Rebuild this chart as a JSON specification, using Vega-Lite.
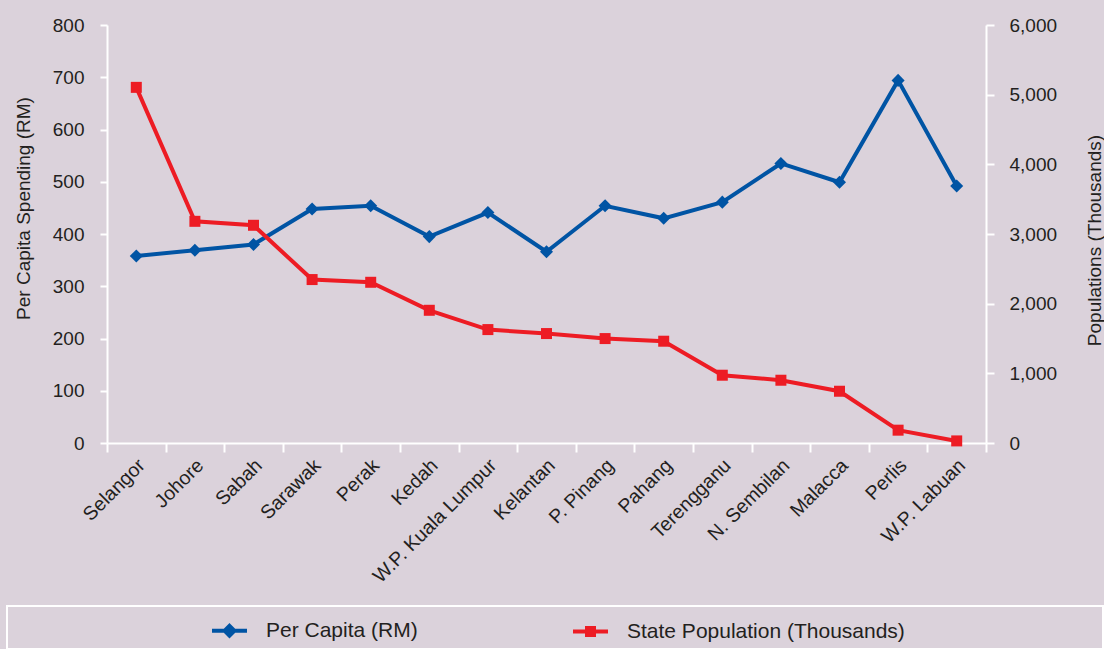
{
  "$schema": "https://vega.github.io/schema/vega-lite/v6.json",
  "width": 879,
  "height": 418,
  "autosize": "none",
  "padding": {"left": 107, "top": 25, "right": 118, "bottom": 206},
  "background": "#dbd2db",
  "config": {
    "view": {"stroke": null},
    "font": "Liberation Sans",
    "axis": {"labelFont": "Liberation Sans", "titleFont": "Liberation Sans", "labelColor": "#231f20", "titleColor": "#231f20", "titleFontWeight": "normal"},
    "legend": {"labelFont": "Liberation Sans", "titleFont": "Liberation Sans", "labelColor": "#231f20"}
  },
  "data": {
    "values": [
      {"state": "Selangor", "percap": 358, "pop": 5105},
      {"state": "Johore", "percap": 369, "pop": 3182},
      {"state": "Sabah", "percap": 380, "pop": 3125},
      {"state": "Sarawak", "percap": 448, "pop": 2346},
      {"state": "Perak", "percap": 454, "pop": 2307},
      {"state": "Kedah", "percap": 395, "pop": 1905},
      {"state": "W.P. Kuala Lumpur", "percap": 441, "pop": 1628},
      {"state": "Kelantan", "percap": 366, "pop": 1571},
      {"state": "P. Pinang", "percap": 454, "pop": 1499},
      {"state": "Pahang", "percap": 430, "pop": 1461},
      {"state": "Terengganu", "percap": 461, "pop": 973},
      {"state": "N. Sembilan", "percap": 535, "pop": 901},
      {"state": "Malacca", "percap": 499, "pop": 743},
      {"state": "Perlis", "percap": 694, "pop": 184},
      {"state": "W.P. Labuan", "percap": 492, "pop": 30}
    ]
  },
  "encoding": {
    "x": {
      "field": "state", "type": "nominal", "sort": null,
      "scale": {"type": "band", "paddingInner": 0, "paddingOuter": 0},
      "axis": {
        "title": null, "labelAngle": -45, "labelAlign": "right", "labelBaseline": "middle",
        "labelFontSize": 19.5, "labelPadding": 10, "labelOffset": 5, "tickBand": "extent", "tickSize": 9, "tickWidth": 2,
        "tickColor": "white", "domainColor": "white", "domainWidth": 2, "labelLimit": 300
      }
    },
    "color": {
      "type": "nominal",
      "scale": {"domain": ["Per Capita (RM)", "State Population (Thousands)"], "range": ["#0054a4", "#ed1c24"]},
      "legend": {
        "orient": "none", "legendX": -100, "legendY": 581, "direction": "horizontal",
        "strokeColor": "white", "padding": 5,
        "title": "\u00a0", "titleOrient": "left", "titlePadding": 198, "titleFontSize": 21,
        "symbolSize": 1225, "symbolStrokeWidth": 4, "labelFontSize": 21, "labelOffset": 17,
        "columnPadding": 147, "labelLimit": 800,
        "labelExpr": "datum.value == 'State Population (Thousands)' ? pad(datum.label, 61, '\u00a0') + '\u200b' : datum.label",
        "encode": {
          "legend": {"update": {"strokeWidth": {"value": 2}}},
          "symbols": {"update": {
            "shape": {"signal": "datum.value == 'Per Capita (RM)' ? 'M-1,0H1M0,-0.28L0.28,0L0,0.28L-0.28,0Z' : 'M-1,0H1M-0.2,-0.2H0.2V0.2H-0.2Z'"},
            "fill": {"scale": "color", "field": "value"},
            "stroke": {"scale": "color", "field": "value"},
            "strokeWidth": {"value": 4},
            "opacity": {"value": 1},
            "fillOpacity": {"value": 1},
            "strokeOpacity": {"value": 1}
          }}
        }
      }
    }
  },
  "layer": [
    {
      "encoding": {
        "y": {
          "field": "percap", "type": "quantitative",
          "scale": {"domain": [0, 800], "nice": false},
          "axis": {
            "title": "Per Capita Spending (RM)", "titleFontSize": 19, "titleAngle": -90,
            "titleX": -78, "titleY": 183, "titleAlign": "center", "titleBaseline": "alphabetic",
            "values": [0, 100, 200, 300, 400, 500, 600, 700, 800], "grid": false,
            "domainColor": "white", "domainWidth": 2, "tickColor": "white", "tickWidth": 2, "tickSize": 7,
            "labelPadding": 16, "labelFontSize": 19
          }
        },
        "color": {"datum": "Per Capita (RM)"}
      },
      "layer": [
        {"mark": {"type": "line", "strokeWidth": 4}},
        {"mark": {"type": "point", "shape": "diamond", "filled": true, "size": 170, "opacity": 1}}
      ]
    },
    {
      "encoding": {
        "y": {
          "field": "pop", "type": "quantitative",
          "scale": {"domain": [0, 6000], "nice": false},
          "axis": {
            "orient": "right", "format": ",.0f",
            "title": "Populations (Thousands)", "titleFontSize": 19, "titleAngle": -90,
            "titleX": 114, "titleY": 215, "titleAlign": "center", "titleBaseline": "alphabetic",
            "values": [0, 1000, 2000, 3000, 4000, 5000, 6000], "grid": false,
            "domainColor": "white", "domainWidth": 2, "tickColor": "white", "tickWidth": 2, "tickSize": 8,
            "labelPadding": 15, "labelFontSize": 19
          }
        },
        "color": {"datum": "State Population (Thousands)"}
      },
      "layer": [
        {"mark": {"type": "line", "strokeWidth": 4}},
        {"mark": {"type": "point", "shape": "square", "filled": true, "size": 121, "opacity": 1}}
      ]
    }
  ],
  "resolve": {"scale": {"y": "independent"}}
}
